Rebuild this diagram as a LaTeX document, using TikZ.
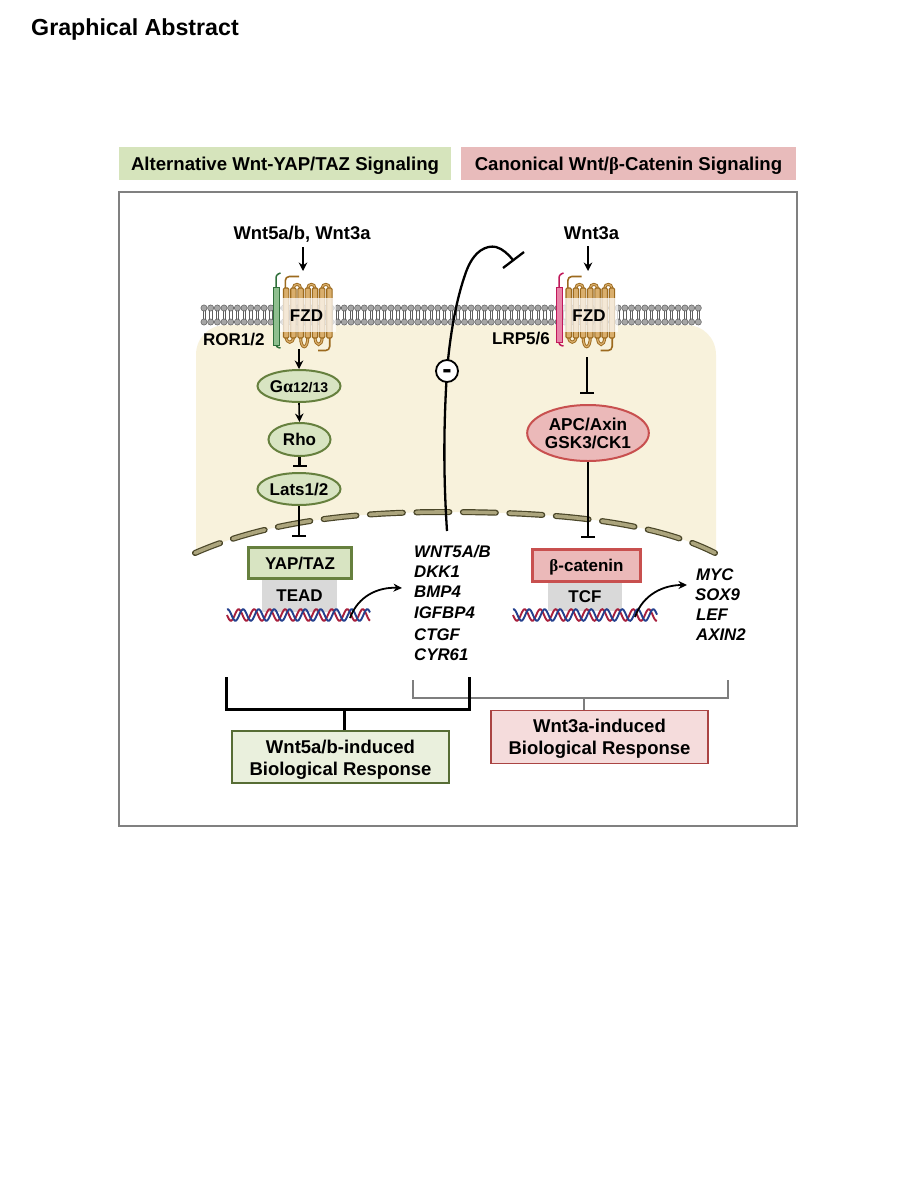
\documentclass[tikz,border=0pt]{standalone}
\usepackage{fontspec}
\setmainfont{Liberation Sans}
\newfontfamily\grk{Liberation Serif}
\usetikzlibrary{shapes.geometric,arrows.meta,calc}
\definecolor{cyto}{HTML}{F8F2DC}
\definecolor{grnfill}{HTML}{D8E4C2}
\definecolor{grnedge}{HTML}{66803E}
\definecolor{redfill}{HTML}{EBB9B9}
\definecolor{rededge}{HTML}{C8504F}
\definecolor{hdrgrn}{HTML}{D6E4BC}
\definecolor{hdrred}{HTML}{E8BBBB}
\definecolor{tcbox}{HTML}{D9D9D9}
\definecolor{helixfill}{HTML}{D9AE6C}
\definecolor{helixedge}{HTML}{9C6A1E}
\definecolor{bead}{HTML}{A6A6A6}
\definecolor{beadedge}{HTML}{5E5E5E}
\definecolor{rorfill}{HTML}{8FBF8F}
\definecolor{roredge}{HTML}{2F6F3A}
\definecolor{lrpfill}{HTML}{E884A8}
\definecolor{lrpedge}{HTML}{C0185A}
\definecolor{envouter}{HTML}{4A4628}
\definecolor{envinner}{HTML}{ACA57D}
\definecolor{strandred}{HTML}{A8203C}
\definecolor{strandblue}{HTML}{24408E}
\definecolor{bracketgray}{HTML}{7E7E7E}
\tikzset{
  x=1pt,y=-1pt,
  txt/.style={inner sep=0pt,font=\fontsize{#1}{#1}\selectfont\bfseries,text=black},
  txt/.default=16,
  gene/.style={inner sep=0pt,anchor=base west,font=\fontsize{16.8}{17}\selectfont\bfseries\itshape},
  hdr/.style={draw=none,inner sep=0pt,text height=13pt,text depth=0pt,font=\fontsize{18.6}{19}\selectfont\bfseries},
  grnoval/.style={ellipse,draw=grnedge,fill=grnfill,line width=2pt,inner sep=0pt,text height=12pt,text depth=0pt,font=\fontsize{17}{17}\selectfont\bfseries},
  redoval/.style={ellipse,draw=rededge,fill=redfill,line width=2pt,inner sep=0pt,align=center,font=\fontsize{17.2}{18}\selectfont\bfseries},
  tfbox/.style={fill=tcbox,inner sep=0pt,text height=12.2pt,text depth=0pt,font=\fontsize{17}{17}\selectfont\bfseries},
  factor/.style={draw,line width=2.2pt,inner sep=0pt,text height=12.2pt,text depth=0pt,font=\fontsize{17}{17}\selectfont\bfseries},
  respbox/.style={draw,line width=1.5pt,inner sep=0pt,align=center,font=\fontsize{18.5}{22}\selectfont\bfseries},
  act/.style={line width=1.6pt,-{Stealth[length=8.5pt,width=8.5pt]}},
  inh/.style={line width=2.1pt,-{Bar[width=14pt,line width=2.1pt]}},
  actcurve/.style={line width=1.8pt,-{Stealth[length=8.5pt,width=8pt]}},
  bracketK/.style={line width=3pt,line cap=butt,line join=miter},
  bracketG/.style={line width=2.7pt,draw=bracketgray,line cap=butt,line join=miter},
  envdash/.style={line cap=round,dash pattern=on 33pt off 13.5pt,dash phase=6pt},
}
% Text line moved by a fixed amount without changing its node's size
\newcommand{\shiftline}[2]{\raisebox{#1}[0pt][0pt]{#2}}
% Lipid bilayer: two bead rows joined by paired tails
\newcommand{\bilayer}[2]{%
  \pgfmathsetmacro{\bn}{int((#2-#1)/6.68)}%
  \foreach \bi in {0,...,\bn}{%
    \pgfmathsetmacro{\bx}{#1+\bi*6.68}%
    \draw[beadedge,line width=.5pt] (\bx-1.1,308) -- (\bx-1.1,322) (\bx+1.1,308) -- (\bx+1.1,322);
    \fill[bead,draw=beadedge,line width=.5pt] (\bx,308) circle[radius=3.1] (\bx,322) circle[radius=3.1];
  }%
}
% One loop of a receptor, with a dark rim and light core
\newcommand{\receptorloop}[1]{%
  \draw[helixedge,line width=3pt] #1;
  \draw[helixfill,line width=1.2pt] #1;
}
% Seven-pass receptor; #1 is the left edge of the first helix
\newcommand{\receptor}[1]{%
  \begin{scope}[shift={(#1,0)}]
    \draw[helixedge,line width=1.6pt,rounded corners=4pt] (1.8,288) -- (1.8,276.5) -- (15.5,276.5);
    \draw[helixedge,line width=1.6pt,rounded corners=4pt] (46.2,336) -- (46.2,350.5) -- (34.5,350.5);
    \foreach \hx in {9.9,24.3,38.7}{%
      \receptorloop{(\hx,288) .. controls (\hx,283.2) and (\hx+7.2,283.2) .. (\hx+7.2,288)}
    }
    \receptorloop{(2.7,337) .. controls (2.7,344) and (9.9,344) .. (9.9,337)}
    \receptorloop{(17.1,337) .. controls (17.1,350) and (24.3,350) .. (24.3,337)}
    \receptorloop{(31.5,337) .. controls (31.5,347) and (38.7,347) .. (38.7,337)}
    \foreach \hi in {0,...,6}{%
      \draw[helixedge,fill=helixfill,line width=1.1pt,rounded corners=1.2pt]
        (\hi*7.2,288) rectangle (\hi*7.2+5.4,338);
    }
    \fill[white,opacity=.72] (-4.5,298) rectangle (52,332);
  \end{scope}%
}
% Double helix strand pair between two x positions
\newcommand{\dnahelix}[2]{%
  \draw[strandred,line width=1.9pt] plot[domain=#1:#2,samples=130,smooth] (\x,{615+5.8*sin(23.2*(\x-#1))});
  \draw[strandblue,line width=1.9pt] plot[domain=#1:#2,samples=130,smooth] (\x,{615+5.8*sin(23.2*(\x-#1-4.5))});
}
\begin{document}
\begin{tikzpicture}
\useasboundingbox (0,0) rectangle (900,1200);
\fill[white] (0,0) rectangle (900,1200);

\node[txt=23.2,anchor=base west] (title) at (31,35) {Graphical Abstract};

% Column headers
\node[hdr,fill=hdrgrn,minimum width=332pt,minimum height=33pt] (hdrA) at (285,163.5) {Alternative Wnt-YAP/TAZ Signaling};
\node[hdr,fill=hdrred,minimum width=335pt,minimum height=33pt] (hdrB) at (628.5,163.5) {Canonical Wnt/{\grk β}-Catenin Signaling};

% Outer frame
\draw[black!50,line width=1.3pt] (119,192) rectangle (797,826);

% Cytoplasm above the nuclear envelope
\fill[cyto] (196,553) -- (196,355) .. controls (196,338) and (209,325) .. (226,325)
  -- (686,325) .. controls (703,325) and (716,338) .. (716,355) -- (716,553)
  -- (715,553) .. controls (650,520) and (550,512) .. (445,512)
  .. controls (360,512) and (270,520) .. (195,553) -- cycle;

% Plasma membrane and receptors
\bilayer{204}{700}
\receptor{283.5}
\receptor{566}

% Co-receptors
\draw[roredge,line width=1.5pt,rounded corners=2.5pt] (276,287) -- (276,275) -- (280.5,273);
\draw[roredge,line width=1.5pt,rounded corners=2.5pt] (276,345) -- (276,347) -- (280.5,348);
\draw[roredge,fill=rorfill,line width=1pt] (273,287) rectangle (279,345);
\draw[lrpedge,line width=1.5pt,rounded corners=2.5pt] (559,287) -- (559,275) -- (563.5,273);
\draw[lrpedge,line width=1.5pt,rounded corners=2.5pt] (559,342) -- (559,345) -- (563.5,346);
\draw[lrpedge,fill=lrpfill,line width=1pt] (556.5,287) rectangle (562,342);

\node[txt=17,anchor=base] (fzdA) at (306.5,321) {FZD};
\node[txt=17,anchor=base] (fzdB) at (589,321) {FZD};
\node[txt=17,anchor=base west] (rorL) at (203,345) {ROR1/2};
\node[txt=17,anchor=base west] (lrpL) at (492,344.5) {LRP5/6};

% Ligands
\node[txt=18.4,anchor=base] (wntA) at (302,239.5) {Wnt5a/b, Wnt3a};
\node[txt=18.4,anchor=base] (wntB) at (591.5,239.5) {Wnt3a};
\coordinate (wntAstart) at (303,247);
\coordinate (wntAend) at (303,271);
\coordinate (wntBstart) at (588,246);
\coordinate (wntBend) at (588,271);
\draw[act] (wntAstart) -- (wntAend);
\draw[act] (wntBstart) -- (wntBend);

% Nuclear envelope
\coordinate (neL) at (195,553);
\coordinate (neT) at (445,512);
\coordinate (neR) at (715,553);
\draw[envouter,envdash,line width=6pt]
  (neL) .. controls (270,520) and (360,512) .. (neT) .. controls (550,512) and (650,520) .. (neR);
\draw[envinner,envdash,line width=3.6pt]
  (neL) .. controls (270,520) and (360,512) .. (neT) .. controls (550,512) and (650,520) .. (neR);

% Left pathway
\node[grnoval,minimum width=83pt,minimum height=32pt] (galpha) at (299,386) {G{\grk\fontsize{18}{18}\selectfont α}\fontsize{14}{14}\selectfont 12/13};
\node[grnoval,minimum width=62pt,minimum height=33pt] (rho) at (299.5,439.5) {Rho};
\node[grnoval,minimum width=83pt,minimum height=32pt] (lats) at (299,489) {Lats1/2};
\node[tfbox,minimum width=75pt,minimum height=33pt] (tead) at (299.5,595) {TEAD};
\node[factor,draw=grnedge,fill=grnfill,minimum width=103pt,minimum height=31pt] (yap) at (300,563) {YAP/TAZ};
\coordinate (fzdAout) at (299,349);
\draw[act] (fzdAout) -- (galpha.north);
\draw[act] (galpha.south) -- (rho.north);
\draw[inh,shorten >=5pt] (rho.south) -- (rho.south |- lats.north);
\draw[inh,shorten >=9.5pt] (lats.south) -- (lats.south |- yap.north);

% Right pathway
\node[redoval,minimum width=119pt,minimum height=56pt] (apc) at (588,433) {\shiftline{-6pt}{APC/Axin}\\\shiftline{-6pt}{GSK3/CK1}};
\node[tfbox,minimum width=74pt,minimum height=30pt] (tcf) at (585,596) {TCF};
\node[factor,draw=rededge,fill=redfill,minimum width=108pt,minimum height=32pt] (bcat) at (586.5,565.5) {{\grk β}-catenin};
\coordinate (fzdBout) at (587,357);
\draw[inh,shorten >=10pt] (fzdBout) -- (fzdBout |- apc.north);
\draw[inh,shorten >=10pt] (apc.south) -- (apc.south |- bcat.north);

% DNA under each transcription complex
\dnahelix{227}{370}
\dnahelix{513}{657}

% Genes
\node[gene] (g1) at (414,557) {WNT5A/B};
\node[gene] (g2) at (414,577) {DKK1};
\node[gene] (g3) at (414,597) {BMP4};
\node[gene] (g4) at (414,618) {IGFBP4};
\node[gene] (g5) at (414,640) {CTGF};
\node[gene] (g6) at (414,660) {CYR61};
\node[gene] (h1) at (696,580) {MYC};
\node[gene] (h2) at (695,600) {SOX9};
\node[gene] (h3) at (696,620) {LEF};
\node[gene] (h4) at (696,640) {AXIN2};

% Transcription arrows
\coordinate (txA) at (350,618);
\coordinate (txAend) at (402,588);
\coordinate (txB) at (635,617);
\coordinate (txBend) at (687,585);
\draw[actcurve] (txA) .. controls (358,596) and (378,587) .. (txAend);
\draw[actcurve] (txB) .. controls (643,594) and (664,585) .. (txBend);

% Long inhibitory feedback curve
\coordinate (fbStart) at (447,531);
\coordinate (fbMid) at (447,371);
\coordinate (fbBarA) at (503,268);
\coordinate (fbBarB) at (524,252);
\draw[line width=2.3pt] (fbStart) .. controls (443,470) and (444,420) .. (fbMid)
  .. controls (450,335) and (456,300) .. (466,272)
  .. controls (474,250) and (487,245) .. (496,247)
  .. controls (503,249) and (508,254) .. (513,260);
\draw[line width=2.3pt] (fbBarA) -- (fbBarB);
\node[circle,draw,fill=white,line width=1.8pt,minimum size=22pt,inner sep=0pt,font=\fontsize{28}{28}\selectfont\bfseries] (minus) at (fbMid) {\raisebox{-7pt}[0pt][0pt]{-}};

% Response boxes and brackets
\node[respbox,draw=grnedge!85!black,fill=grnfill!55,minimum width=217pt,minimum height=52pt] (respA) at (340.5,757) {\shiftline{-7pt}{Wnt5a/b-induced}\\\shiftline{-7pt}{Biological Response}};
\node[respbox,draw=rededge!85!black,fill=redfill!50,minimum width=217pt,minimum height=53pt] (respB) at (599.5,737) {\shiftline{-6.8pt}{Wnt3a-induced}\\\shiftline{-6.8pt}{Biological Response}};

\coordinate (bkAl) at (226,677);
\coordinate (bkAr) at (469,677);
\coordinate (bkAlow) at (226,709);
\coordinate (bkArw) at (469,709);
\coordinate (bkAstem) at (344,709);
\coordinate (bkBl) at (413,680);
\coordinate (bkBr) at (728,680);
\coordinate (bkBlow) at (413,698);
\coordinate (bkBrw) at (728,698);
\coordinate (bkBstem) at (584,698);

\draw[bracketG] (bkBl) -- (bkBlow) -- (bkBrw) -- (bkBr);
\draw[bracketG] (bkBstem) -- (bkBstem |- respB.north);
\draw[bracketK] (bkAl) -- (bkAlow) -- (bkArw) -- (bkAr);
\draw[bracketK] (bkAstem) -- (bkAstem |- respA.north);
\end{tikzpicture}
\end{document}
